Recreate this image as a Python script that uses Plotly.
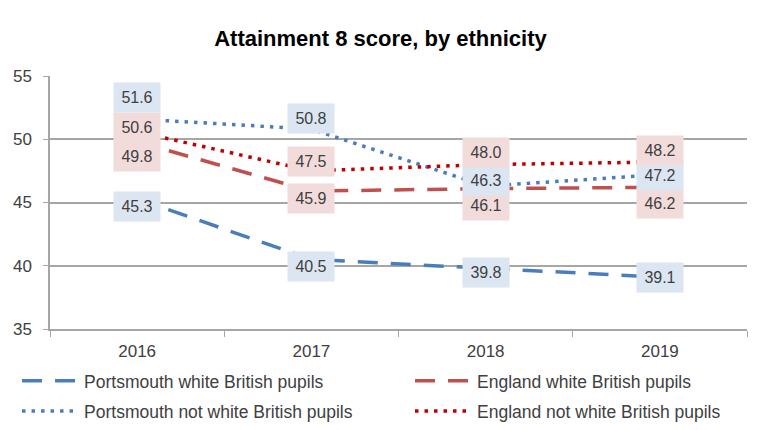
import plotly.graph_objects as go

years = ["2016", "2017", "2018", "2019"]
pt_wb = [45.3, 40.5, 39.8, 39.1]
eng_wb = [49.8, 45.9, 46.1, 46.2]
pt_nwb = [51.6, 50.8, 46.3, 47.2]
eng_nwb = [50.6, 47.5, 48.0, 48.2]

names = ["Portsmouth white British pupils", "England white British pupils",
         "Portsmouth not white British pupils", "England not white British pupils"]

# label vertical offsets (px) for each series, per year
shifts = {
    "pt_wb": [-8, -7, -4, 0],
    "eng_wb": [-15, -7, -17, -16],
    "pt_nwb": [22, 11, 6, -1],
    "eng_nwb": [4, 9, 12, 12],
}

BLUE = "#4a7ebb"
RED = "#c0504d"
DRED = "#c00000"
BLUEBOX = "#dce6f2"
PINKBOX = "#f2dcdb"
FONT = "Liberation Sans, Arial, sans-serif"

fig = go.Figure()
fig.add_trace(go.Scatter(x=years, y=pt_wb, mode="lines", name=names[0], showlegend=True,
                         line=dict(color=BLUE, width=3.5, dash="20px,13px"), legend="legend"))
fig.add_trace(go.Scatter(x=years, y=eng_wb, mode="lines", name=names[1], showlegend=True,
                         line=dict(color=RED, width=3.5, dash="20px,13px"), legend="legend2"))
fig.add_trace(go.Scatter(x=years, y=pt_nwb, mode="lines", name=names[2], showlegend=True,
                         line=dict(color=BLUE, width=3.5, dash="3.5px,6px"), legend="legend3"))
fig.add_trace(go.Scatter(x=years, y=eng_nwb, mode="lines", name=names[3], showlegend=True,
                         line=dict(color=DRED, width=3.5, dash="3.5px,6px"), legend="legend4"))

series = [("pt_wb", pt_wb, BLUEBOX), ("eng_wb", eng_wb, PINKBOX),
          ("pt_nwb", pt_nwb, BLUEBOX), ("eng_nwb", eng_nwb, PINKBOX)]
for key, vals, bg in series:
    for i, v in enumerate(vals):
        fig.add_annotation(x=i, y=v, xref="x", yref="y", text=f"{v:.1f}", showarrow=False,
                           yshift=shifts[key][i], bgcolor=bg,
                           width=36, height=19, borderpad=5,
                           font=dict(family=FONT, size=16, color="#404040"))


def leg(x, y):
    return dict(orientation="h", x=x, xanchor="left", y=y, yanchor="top", itemwidth=57,
                font=dict(size=17.5, color="#404040"), bgcolor="rgba(0,0,0,0)")


fig.update_layout(
    width=761, height=430,
    showlegend=True,
    margin=dict(l=50, r=14, t=76, b=101, autoexpand=False),
    paper_bgcolor="white", plot_bgcolor="white",
    font=dict(family=FONT, size=15, color="#404040"),
    title=dict(text="<b>Attainment 8 score, by ethnicity</b>", x=0.5, xanchor="center",
               y=1 - 38 / 430, yanchor="middle",
               font=dict(family=FONT, size=22, color="#000000")),
    xaxis=dict(type="category", tickson="boundaries", ticks="outside", ticklen=6,
               tickcolor="#a6a6a6", showline=True, linecolor="#a6a6a6", linewidth=1.5,
               showgrid=False, range=[-0.5, 3.5], ticklabelstandoff=6,
               tickfont=dict(size=17, color="#404040")),
    yaxis=dict(range=[35, 55], dtick=5, showgrid=True, gridcolor="#a6a6a6", gridwidth=1.5,
               showline=True, linecolor="#a6a6a6", linewidth=1.5, ticks="outside",
               ticklen=5, tickcolor="#a6a6a6", zeroline=False, ticklabelstandoff=8,
               tickfont=dict(size=17, color="#404040")),
    legend=leg(-0.0473, -0.134),
    legend2=leg(0.5165, -0.134),
    legend3=leg(-0.0473, -0.253),
    legend4=leg(0.5165, -0.253),
)

fig.write_html("out.html")
